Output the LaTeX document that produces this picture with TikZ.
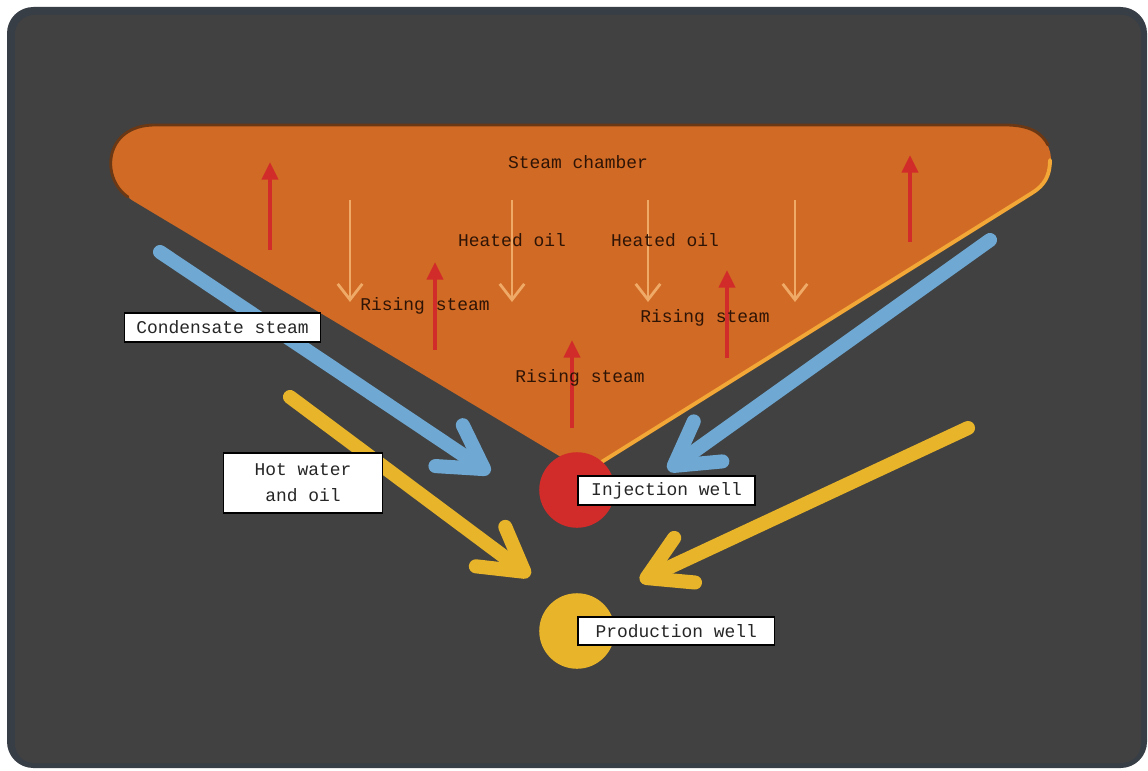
\documentclass[tikz,border=0pt]{standalone}
\usepackage{fontspec}
\setmonofont{Liberation Mono}
\usepackage{tikz}
\usetikzlibrary{positioning, arrows.meta, calc}

\definecolor{rahmen}{HTML}{383E46}
\definecolor{grund}{HTML}{414141}
\definecolor{kammer}{HTML}{D06A24}
\definecolor{kammerrand}{HTML}{6A3814}
\definecolor{kante}{HTML}{F3A736}
\definecolor{dampf}{HTML}{D22C2A}
\definecolor{oel}{HTML}{F0AA68}
\definecolor{kondensat}{HTML}{6EA8D3}
\definecolor{gelb}{HTML}{E8B42A}
\definecolor{schrift}{HTML}{2E1406}

\begin{document}
\begin{tikzpicture}[x=0.02cm, y=-0.02cm,
    font=\ttfamily\fontsize{10.2}{14.7}\selectfont,
    steigend/.style={dampf, line width=2.8pt, -{Triangle[length=10pt, width=9pt]}},
    sinkend/.style={oel, line width=1.6pt, -{Straight Barb[length=9pt, width=14pt]}},
    strom/.style={line width=8pt, line cap=round, -{Straight Barb[length=24pt, width=28pt, line cap=round, line join=round]}},
    schild/.style={draw=black, line width=0.9pt, fill=white, text=black!85, inner sep=0pt, align=center},
    brunnen/.style={circle, minimum size=43pt, inner sep=0pt}]

    % Parameter der Dampfkammer (Pixelkoordinaten, y nach unten)
    \def\yTop{125}      % Oberkante der Kammer
    \def\xApex{586}     % Spitze unten (unter dem Injektionsbrunnen)
    \def\yApex{472}

    \useasboundingbox (0,0) rectangle (1148,770);

    % Rahmen und Hintergrund
    \fill[white] (0,0) rectangle (1148,770);
    \fill[rahmen, rounded corners=15pt] (7,7) rectangle (1147,768);
    \fill[grund, rounded corners=11pt] (15,15) rectangle (1141,763);

    % --- Dampfkammer ---
    \fill[kammer] (135,202) .. controls (100,182) and (102,\yTop) .. (155,\yTop)
        -- (1005,\yTop) .. controls (1062,\yTop) and (1060,178) .. (1032,193)
        -- (\xApex,\yApex) -- cycle;

    % dunkle Kante oben, helle Kante rechts
    \draw[kammerrand, line width=1.6pt, line cap=round] (128,197) .. controls (100,178) and (104,\yTop) .. (155,\yTop)
        -- (1005,\yTop) .. controls (1030,\yTop) and (1042,133) .. (1048,145);
    \draw[kante, line width=2.2pt, line cap=round] (1050,160) .. controls (1050,175) and (1045,185) .. (1032,193) -- (600,463);

    % aufsteigender Dampf (rot) und absinkendes Öl (hell)
    \foreach \x/\yu/\yo in {270/250/162, 435/350/262, 572/428/340, 727/358/270, 910/242/155}
        \draw[steigend] (\x,\yu) -- (\x,\yo);
    \foreach \x in {350, 512, 648, 795}
        \draw[sinkend] (\x,200) -- (\x,302);

    % Beschriftung in der Kammer
    \node[text=schrift] (kammertext) at (578,162) {Steam chamber};
    \node[text=schrift] (oelA) at (512,240) {Heated oil};
    \node[text=schrift] (oelB) at (665,240) {Heated oil};
    \node[text=schrift] (dampfA) at (425,306) {Rising steam};
    \node[text=schrift] (dampfB) at (705,318) {Rising steam};
    \node[text=schrift] (dampfC) at (580,378) {Rising steam};

    % --- Brunnen ---
    \node[brunnen, fill=dampf] (injektion) at (577,490) {};
    \node[brunnen, fill=gelb] (produktion) at (577,631) {};

    % --- Ströme außerhalb der Kammer ---
    \coordinate (kondL) at (160,252);
    \coordinate (kondLEnde) at (490,473);
    \coordinate (kondR) at (990,240);
    \coordinate (kondREnde) at (668,470);
    \coordinate (wasserL) at (290,397);
    \coordinate (wasserLEnde) at (530,576);
    \coordinate (wasserR) at (968,428);
    \coordinate (wasserREnde) at (640,581);

    \draw[strom, kondensat] (kondL) -- (kondLEnde);
    \draw[strom, kondensat] (kondR) -- (kondREnde);
    \draw[strom, gelb] (wasserL) -- (wasserLEnde);
    \draw[strom, gelb] (wasserR) -- (wasserREnde);

    % --- Schilder ---
    \node[schild, minimum width=111.7pt, minimum height=16.4pt] (kondtext) at (222.5,327.5) {Condensate steam};
    \node[schild, minimum width=90.7pt, minimum height=34pt] (wassertext) at (303,483) {Hot water\\and oil};
    \node[schild, minimum width=101pt, minimum height=16.4pt, anchor=west] (injtext) at (577,490.5) {Injection well};
    \node[schild, minimum width=112pt, minimum height=15.9pt, anchor=west] (prodtext) at (577,631) {Production well};

\end{tikzpicture}
\end{document}
